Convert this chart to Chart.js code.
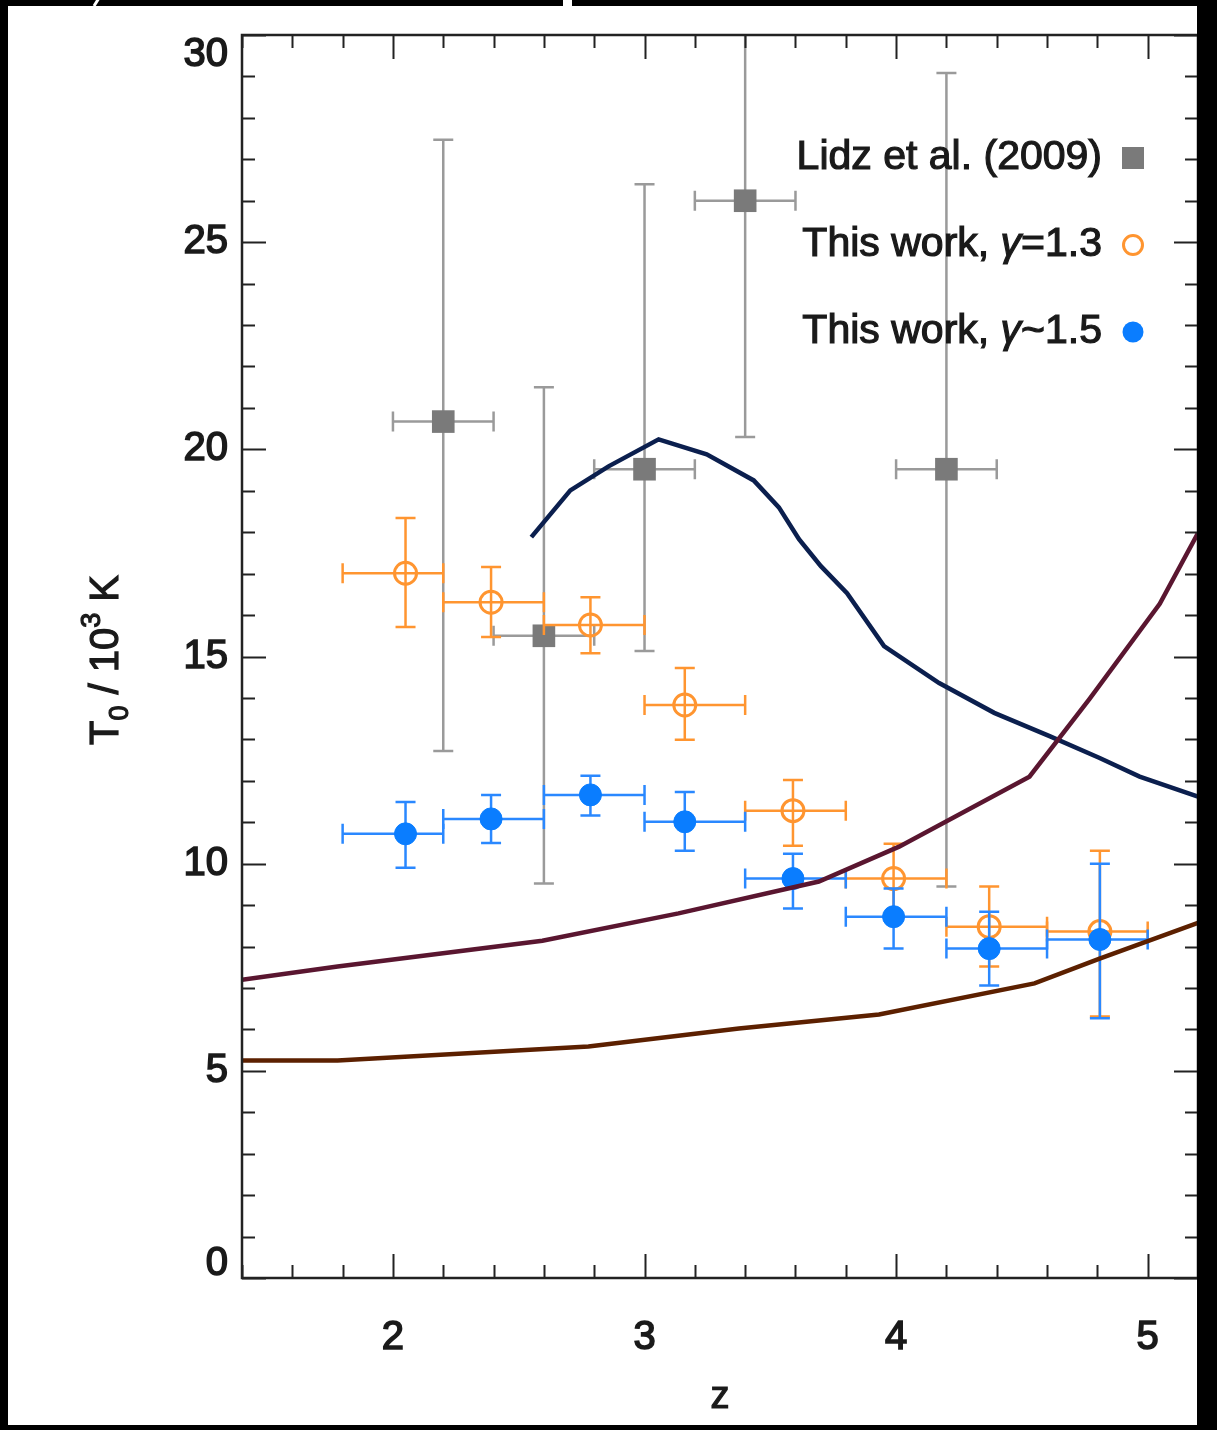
<!DOCTYPE html>
<html>
<head>
<meta charset="utf-8">
<style>
  html, body { margin: 0; padding: 0; background: #000; }
  canvas { display: block; }
</style>
<script src="https://cdn.jsdelivr.net/npm/chart.js@4"></script>
</head>
<body>
<canvas id="grafico" width="1217" height="1430"></canvas>
<script>
// Lidz et al. (2009)
const lidzZ = [2.2, 2.6, 3.0, 3.4, 4.2];
const lidzT = [20.67, 15.5, 19.52, 26.0, 19.52];
const lidzTHi = [27.47, 21.5, 26.4, 31.0, 29.08];
const lidzTLo = [12.72, 9.52, 15.13, 20.3, 9.45];
const lidzZLo = [2.0, 2.4, 2.8, 3.2, 4.0];
const lidzZHi = [2.4, 2.8, 3.2, 3.6, 4.4];

// This work, gamma = 1.3
const g13Z = [2.05, 2.39, 2.785, 3.16, 3.59, 3.99, 4.37, 4.81];
const g13T = [17.01, 16.31, 15.76, 13.83, 11.28, 9.64, 8.48, 8.36];
const g13THi = [18.34, 17.16, 16.43, 14.72, 12.02, 10.48, 9.45, 10.31];
const g13TLo = [15.71, 15.47, 15.08, 12.99, 10.43, 8.8, 7.52, 6.31];
const g13ZLo = [1.8, 2.2, 2.6, 3.0, 3.4, 3.8, 4.2, 4.6];
const g13ZHi = [2.2, 2.6, 3.0, 3.4, 3.8, 4.2, 4.6, 5.0];

// This work, gamma ~ 1.5
const g15Z = [2.05, 2.39, 2.785, 3.16, 3.59, 3.99, 4.37, 4.81];
const g15T = [10.72, 11.08, 11.66, 11.01, 9.64, 8.72, 7.95, 8.17];
const g15THi = [11.49, 11.66, 12.12, 11.73, 10.24, 9.4, 8.84, 10.0];
const g15TLo = [9.9, 10.5, 11.16, 10.31, 8.92, 7.95, 7.06, 6.27];
const g15ZLo = [1.8, 2.2, 2.6, 3.0, 3.4, 3.8, 4.2, 4.6];
const g15ZHi = [2.2, 2.6, 3.0, 3.4, 3.8, 4.2, 4.6, 5.0];

// model curves
const navyZ = [2.55, 2.705, 2.857, 3.056, 3.247, 3.434, 3.534, 3.614, 3.701, 3.805, 3.952, 4.171, 4.39, 4.61, 4.809, 4.968, 5.2];
const navyT = [17.88, 19.01, 19.59, 20.24, 19.88, 19.25, 18.6, 17.83, 17.18, 16.53, 15.25, 14.36, 13.64, 13.08, 12.55, 12.1, 11.62];
const maroonZ = [1.4, 1.78, 2.594, 3.135, 3.693, 4.012, 4.53, 4.769, 5.048, 5.2];
const maroonT = [7.2, 7.52, 8.14, 8.8, 9.57, 10.41, 12.1, 13.98, 16.27, 17.98];
const brownZ = [1.4, 1.78, 2.777, 3.375, 3.932, 4.55, 4.809, 5.2];
const brownT = [5.25, 5.25, 5.59, 6.02, 6.36, 7.11, 7.71, 8.57];

const xTicks = [2, 3, 4, 5];
const yTicks = [0, 5, 10, 15, 20, 25, 30];

const FUENTE = '"Liberation Sans", Arial, Helvetica, sans-serif';

function puntos(zs, ts) {
    return zs.map((z, i) => ({ x: z, y: ts[i] }));
}

// texto con un trazo fino para engrosarlo un poco
function textoGrueso(ctx, s, x, y) {
    ctx.fillText(s, x, y);
    ctx.strokeText(s, x, y);
}

const errores = {
    lidz: { zLo: lidzZLo, zHi: lidzZHi, tLo: lidzTLo, tHi: lidzTHi, color: '#9a9a9a', width: 2.5 },
    g13: { zLo: g13ZLo, zHi: g13ZHi, tLo: g13TLo, tHi: g13THi, color: '#ff9530', width: 2.5 },
    g15: { zLo: g15ZLo, zHi: g15ZHi, tLo: g15TLo, tHi: g15THi, color: '#2a88ff', width: 2.5 }
};

const errorBars = {
    id: 'errorBars',
    beforeDatasetDraw(chart, args) {
        const ds = chart.data.datasets[args.index];
        const e = errores[ds.errKey];
        if (!e) return;
        const ctx = chart.ctx;
        const xs = chart.scales.x, ys = chart.scales.y;
        const area = chart.chartArea;
        ctx.save();
        ctx.beginPath();
        ctx.rect(area.left, area.top, area.right - area.left, area.bottom - area.top);
        ctx.clip();
        ctx.strokeStyle = e.color;
        ctx.lineWidth = e.width;
        const cap = 10;
        ds.data.forEach((p, i) => {
            const px = xs.getPixelForValue(p.x);
            const py = ys.getPixelForValue(p.y);
            const x0 = xs.getPixelForValue(e.zLo[i]);
            const x1 = xs.getPixelForValue(e.zHi[i]);
            const y0 = ys.getPixelForValue(e.tLo[i]);
            const y1 = ys.getPixelForValue(e.tHi[i]);
            ctx.beginPath();
            ctx.moveTo(px, y0); ctx.lineTo(px, y1);
            ctx.moveTo(px - cap, y0); ctx.lineTo(px + cap, y0);
            ctx.moveTo(px - cap, y1); ctx.lineTo(px + cap, y1);
            ctx.moveTo(x0, py); ctx.lineTo(x1, py);
            ctx.moveTo(x0, py - cap); ctx.lineTo(x0, py + cap);
            ctx.moveTo(x1, py - cap); ctx.lineTo(x1, py + cap);
            ctx.stroke();
        });
        ctx.restore();
    }
};

const ejes = {
    id: 'ejes',
    afterDraw(chart) {
        const ctx = chart.ctx;
        const xs = chart.scales.x, ys = chart.scales.y;
        const a = chart.chartArea;
        ctx.save();
        ctx.strokeStyle = '#222';
        ctx.lineWidth = 2.5;
        ctx.strokeRect(a.left, a.top, a.right - a.left, a.bottom - a.top);

        // ticks hacia dentro
        ctx.lineWidth = 2;
        ctx.beginPath();
        for (let i = 0; i <= 19; i++) {
            const v = 1.4 + i * 0.2;
            const px = Math.round(xs.getPixelForValue(v)) + 0.5;
            const largo = Math.abs(v - Math.round(v)) < 1e-6 ? 24 : 13;
            ctx.moveTo(px, a.bottom); ctx.lineTo(px, a.bottom - largo);
            ctx.moveTo(px, a.top); ctx.lineTo(px, a.top + largo);
        }
        for (let v = 0; v <= 30; v++) {
            const py = Math.round(ys.getPixelForValue(v)) + 0.5;
            const largo = v % 5 === 0 ? 24 : 13;
            ctx.moveTo(a.left, py); ctx.lineTo(a.left + largo, py);
            ctx.moveTo(a.right, py); ctx.lineTo(a.right - largo, py);
        }
        ctx.stroke();

        // etiquetas
        ctx.fillStyle = '#1a1a1a';
        ctx.strokeStyle = '#1a1a1a';
        ctx.lineWidth = 1.6;
        ctx.font = '40px ' + FUENTE;
        ctx.textAlign = 'center';
        ctx.textBaseline = 'middle';
        xTicks.forEach(v => {
            textoGrueso(ctx, String(v), xs.getPixelForValue(v), a.bottom + 60);
        });
        ctx.textAlign = 'right';
        yTicks.forEach(v => {
            let py = ys.getPixelForValue(v);
            if (v === 30) py += 20;
            if (v === 0) py -= 14;
            textoGrueso(ctx, String(v), a.left - 14, py);
        });

        // titulo eje x
        ctx.lineWidth = 1.2;
        ctx.textAlign = 'center';
        ctx.font = '38px ' + FUENTE;
        textoGrueso(ctx, 'z', xs.getPixelForValue(3.3), 1398);

        // titulo eje y: T0 / 10^3 K
        ctx.save();
        ctx.translate(104, 660);
        ctx.rotate(-Math.PI / 2);
        ctx.textAlign = 'left';
        ctx.textBaseline = 'alphabetic';
        const big = '40px ' + FUENTE;
        const small = '27px ' + FUENTE;
        const partes = [
            ['T', big, 0], ['0', small, 10], [' / 10', big, 0], ['3', small, -18], [' K', big, 0]
        ];
        let total = 0;
        partes.forEach(p => { ctx.font = p[1]; total += ctx.measureText(p[0]).width; });
        let cx = -total / 2;
        partes.forEach(p => {
            ctx.font = p[1];
            textoGrueso(ctx, p[0], cx, 14 + p[2]);
            cx += ctx.measureText(p[0]).width;
        });
        ctx.restore();

        // leyenda
        const filas = [
            { y: 158, partes: [['Lidz et al. (2009)', false]], tipo: 'rect' },
            { y: 245, partes: [['This work, ', false], ['\u03b3', true], ['=1.3', false]], tipo: 'open' },
            { y: 332, partes: [['This work, ', false], ['\u03b3', true], ['~1.5', false]], tipo: 'fill' }
        ];
        ctx.textBaseline = 'middle';
        ctx.textAlign = 'left';
        filas.forEach(f => {
            let w = 0;
            f.partes.forEach(p => {
                ctx.font = (p[1] ? 'italic ' : '') + '41px ' + FUENTE;
                w += ctx.measureText(p[0]).width;
            });
            let tx = 1102 - w;
            ctx.fillStyle = '#1a1a1a';
            f.partes.forEach(p => {
                ctx.font = (p[1] ? 'italic ' : '') + '41px ' + FUENTE;
                textoGrueso(ctx, p[0], tx, f.y);
                tx += ctx.measureText(p[0]).width;
            });
            const mx = 1133;
            if (f.tipo === 'rect') {
                ctx.fillStyle = '#7a7a7a';
                ctx.fillRect(mx - 11, f.y - 11, 22, 22);
            } else if (f.tipo === 'open') {
                ctx.save();
                ctx.strokeStyle = '#ff9530';
                ctx.lineWidth = 3;
                ctx.beginPath(); ctx.arc(mx, f.y, 9.5, 0, Math.PI * 2); ctx.stroke();
                ctx.restore();
            } else {
                ctx.fillStyle = '#0a7dff';
                ctx.beginPath(); ctx.arc(mx, f.y, 10.5, 0, Math.PI * 2); ctx.fill();
            }
        });

        // marco negro
        ctx.fillStyle = '#000';
        ctx.fillRect(0, 0, 1217, 6);
        ctx.fillRect(0, 0, 8, 1430);
        ctx.fillRect(1197, 0, 20, 1430);
        ctx.fillRect(0, 1425, 1217, 5);
        ctx.fillStyle = '#fff';
        ctx.fillRect(563, 0, 9, 6);
        ctx.strokeStyle = '#fff';
        ctx.lineWidth = 3;
        ctx.beginPath(); ctx.moveTo(94, 6); ctx.lineTo(99, -2); ctx.stroke();
        ctx.restore();
    }
};

const fondo = {
    id: 'fondo',
    beforeDraw(chart) {
        const ctx = chart.ctx;
        ctx.save();
        ctx.fillStyle = '#fff';
        ctx.fillRect(0, 0, chart.width, chart.height);
        ctx.restore();
    }
};

const ctx = document.getElementById('grafico').getContext('2d');
window.grafico = new Chart(ctx, {
    type: 'scatter',
    data: {
        datasets: [
            {
                label: 'Lidz et al. (2009)',
                data: puntos(lidzZ, lidzT),
                errKey: 'lidz',
                pointStyle: 'rect',
                pointRadius: 16,
                backgroundColor: '#7a7a7a',
                borderWidth: 0,
                order: 6
            },
            {
                label: 'This work, γ=1.3',
                data: puntos(g13Z, g13T),
                errKey: 'g13',
                pointStyle: 'circle',
                pointRadius: 11,
                backgroundColor: 'rgba(0,0,0,0)',
                borderColor: '#ff9530',
                borderWidth: 3,
                order: 5
            },
            {
                label: 'This work, γ~1.5',
                data: puntos(g15Z, g15T),
                errKey: 'g15',
                pointStyle: 'circle',
                pointRadius: 11,
                backgroundColor: '#0a7dff',
                borderColor: '#0a7dff',
                borderWidth: 1,
                order: 4
            },
            {
                label: 'navy',
                type: 'line',
                data: puntos(navyZ, navyT),
                borderColor: '#0b1f4e',
                borderWidth: 4.5,
                pointRadius: 0,
                tension: 0,
                order: 3
            },
            {
                label: 'maroon',
                type: 'line',
                data: puntos(maroonZ, maroonT),
                borderColor: '#5a1630',
                borderWidth: 4.5,
                pointRadius: 0,
                tension: 0,
                order: 2
            },
            {
                label: 'brown',
                type: 'line',
                data: puntos(brownZ, brownT),
                borderColor: '#5c2000',
                borderWidth: 4.5,
                pointRadius: 0,
                tension: 0,
                order: 1
            }
        ]
    },
    options: {
        responsive: false,
        animation: false,
        layout: { padding: { left: 242, top: 35, right: 19, bottom: 152 } },
        scales: {
            x: { type: 'linear', min: 1.4, max: 5.2, display: false },
            y: { type: 'linear', min: 0, max: 30, display: false }
        },
        plugins: {
            legend: { display: false },
            tooltip: { enabled: false }
        }
    },
    plugins: [fondo, errorBars, ejes]
});
</script>
</body>
</html>
